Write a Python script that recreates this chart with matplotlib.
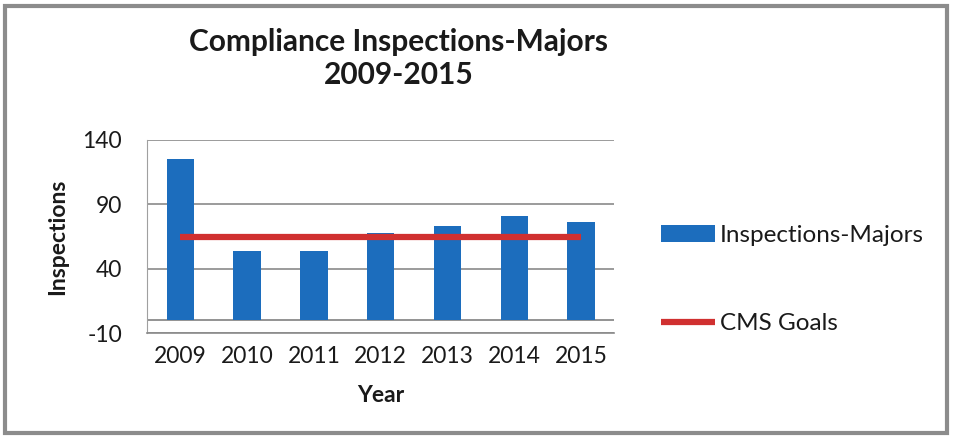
import matplotlib
matplotlib.use("Agg")
import matplotlib.pyplot as plt
from matplotlib.patches import Rectangle
import numpy as np

years = ["2009", "2010", "2011", "2012", "2013", "2014", "2015"]
inspections = [125, 54, 54, 68, 73, 81, 76]
cms_goals = [65, 65, 65, 65, 65, 65, 65]
yticks = [-10, 40, 90, 140]

plt.rcParams['font.family'] = ['Lato', 'DejaVu Sans']
plt.rcParams['axes.unicode_minus'] = False

fig = plt.figure(figsize=(9.54, 4.36), dpi=100)
ax = fig.add_axes([0.154, 0.236, 0.49, 0.443])

x = np.arange(len(years))
bars = ax.bar(x, inspections, width=0.41, color="#1c6dbd", zorder=3, label="Inspections-Majors")
line, = ax.plot(x, cms_goals, color="#d03030", linewidth=4.5, solid_capstyle="butt", zorder=4, label="CMS Goals")
ax.axhline(0, color="#808080", linewidth=1.2, zorder=2)

ax.set_xlim(-0.5, len(years) - 0.5)
ax.set_ylim(-10, 140)
ax.set_yticks(yticks)
ax.set_xticks(x)
ax.set_xticklabels(years, fontsize=16.5, color="#1a1a1a")
ax.tick_params(axis='y', labelsize=16.5, length=0, pad=18, labelcolor="#1a1a1a")
ax.tick_params(axis='x', length=0, pad=9)
ax.yaxis.grid(True, color="#8a8a8a", linewidth=1.2, zorder=0)
ax.set_axisbelow(True)
for s in ["top", "right"]:
    ax.spines[s].set_visible(False)
ax.spines["left"].set_color("#a0a0a0")
ax.spines["bottom"].set_color("#8a8a8a")
ax.spines["bottom"].set_linewidth(1.2)

ax.set_xlabel("Year", fontsize=16.5, fontweight="bold", labelpad=13, color="#1a1a1a")
ax.set_ylabel("Inspections", fontsize=16.5, fontweight="bold", labelpad=10, color="#1a1a1a")

fig.text(0.418, 0.903, "Compliance Inspections-Majors", ha="center", va="center",
         fontsize=21.5, fontweight="bold", color="#1a1a1a")
fig.text(0.418, 0.827, "2009-2015", ha="center", va="center",
         fontsize=21.5, fontweight="bold", color="#1a1a1a")

leg = fig.legend(handles=[bars, line], labels=["Inspections-Majors", "CMS Goals"],
                 loc="center left", bbox_to_anchor=(0.683, 0.358), frameon=False,
                 fontsize=17.5, labelspacing=2.75, handlelength=2.2, handletextpad=0.2,
                 borderaxespad=0)
for t in leg.get_texts():
    t.set_color("#1a1a1a")

# outer border
fig.patches.append(Rectangle((0.005, 0.008), 0.988, 0.978, transform=fig.transFigure,
                             fill=False, edgecolor="#8c8c8c", linewidth=3))

fig.savefig("out.png", dpi=100)
